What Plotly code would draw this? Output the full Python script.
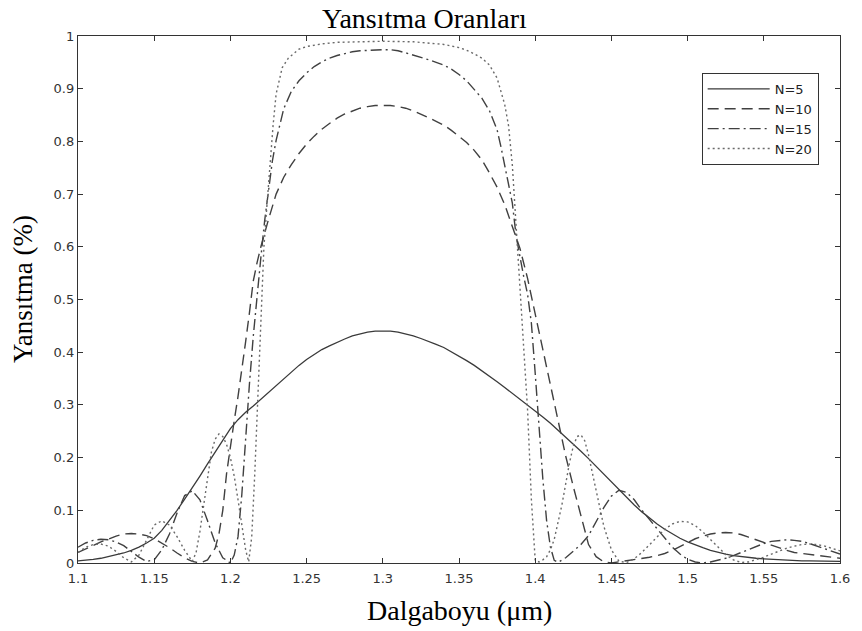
import plotly.graph_objects as go

# ---------------- data ----------------
wl_5 = [round(1.1 + 0.005 * i, 3) for i in range(101)]
r_5 = [0.004, 0.005, 0.007, 0.009, 0.012, 0.015, 0.019, 0.024, 0.030, 0.038,
       0.047, 0.062, 0.080, 0.100, 0.121, 0.142, 0.165, 0.188, 0.211, 0.234,
       0.255, 0.272, 0.286, 0.298, 0.311, 0.324, 0.337, 0.350, 0.363, 0.375,
       0.386, 0.396, 0.405, 0.412, 0.419, 0.425, 0.431, 0.435, 0.438, 0.440,
       0.440, 0.440, 0.438, 0.435, 0.431, 0.426, 0.421, 0.415, 0.409, 0.401,
       0.393, 0.384, 0.375, 0.365, 0.355, 0.344, 0.333, 0.322, 0.311, 0.300,
       0.289, 0.277, 0.265, 0.252, 0.239, 0.226, 0.212, 0.198, 0.183, 0.168,
       0.153, 0.138, 0.124, 0.110, 0.097, 0.085, 0.074, 0.064, 0.055, 0.047,
       0.040, 0.034, 0.029, 0.024, 0.020, 0.017, 0.014, 0.012, 0.010, 0.009,
       0.008, 0.007, 0.006, 0.005, 0.005, 0.004, 0.004, 0.004, 0.003, 0.003,
       0.003]

wl_10 = [1.100, 1.105, 1.110, 1.115, 1.120, 1.125, 1.130, 1.135, 1.140, 1.145,
         1.150, 1.155, 1.160, 1.165, 1.170, 1.175, 1.180, 1.185, 1.190, 1.1925,
         1.195, 1.1975, 1.200, 1.2025, 1.205, 1.2075, 1.210, 1.2125, 1.215, 1.2175,
         1.220, 1.225, 1.230, 1.235, 1.240, 1.245, 1.250, 1.255, 1.260, 1.265,
         1.270, 1.275, 1.280, 1.285, 1.290, 1.295, 1.300, 1.305, 1.310, 1.315,
         1.320, 1.325, 1.330, 1.335, 1.340, 1.345, 1.350, 1.355, 1.360, 1.365,
         1.370, 1.375, 1.380, 1.385, 1.390, 1.395, 1.400, 1.405, 1.410, 1.415,
         1.420, 1.425, 1.430, 1.435, 1.440, 1.445, 1.450, 1.455, 1.460, 1.465,
         1.470, 1.475, 1.480, 1.485, 1.490, 1.495, 1.500, 1.505, 1.510, 1.515,
         1.520, 1.525, 1.530, 1.535, 1.540, 1.545, 1.550, 1.555, 1.560, 1.565,
         1.570, 1.575, 1.580, 1.585, 1.590, 1.595, 1.600]
r_10 = [0.020, 0.026, 0.033, 0.040, 0.046, 0.051, 0.055, 0.056, 0.055, 0.052,
        0.046, 0.038, 0.029, 0.019, 0.010, 0.003, 0.000, 0.006, 0.028, 0.055,
        0.100, 0.170, 0.225, 0.270, 0.316, 0.365, 0.420, 0.475, 0.535, 0.570,
        0.600, 0.652, 0.700, 0.732, 0.756, 0.777, 0.795, 0.810, 0.823, 0.834,
        0.844, 0.852, 0.858, 0.863, 0.866, 0.868, 0.868, 0.868, 0.866, 0.863,
        0.858, 0.852, 0.845, 0.838, 0.831, 0.821, 0.810, 0.798, 0.783, 0.765,
        0.740, 0.713, 0.680, 0.640, 0.597, 0.540, 0.472, 0.403, 0.334, 0.266,
        0.203, 0.145, 0.088, 0.035, 0.012, 0.002, 0.000, 0.002, 0.004, 0.006,
        0.008, 0.011, 0.014, 0.018, 0.024, 0.031, 0.039, 0.046, 0.051, 0.055,
        0.057, 0.058, 0.057, 0.054, 0.049, 0.044, 0.038, 0.033, 0.028, 0.024,
        0.020, 0.018, 0.016, 0.015, 0.013, 0.011, 0.009]

wl_15 = [1.100, 1.105, 1.110, 1.115, 1.120, 1.125, 1.130, 1.135, 1.140, 1.145,
         1.150, 1.155, 1.160, 1.165, 1.170, 1.175, 1.180, 1.185, 1.190, 1.195,
         1.200, 1.2025, 1.205, 1.2075, 1.210, 1.2125, 1.215, 1.2175, 1.220, 1.2225,
         1.225, 1.2275, 1.230, 1.235, 1.240, 1.245, 1.250, 1.255, 1.260, 1.265,
         1.270, 1.275, 1.280, 1.285, 1.290, 1.295, 1.300, 1.305, 1.310, 1.315,
         1.320, 1.325, 1.330, 1.335, 1.340, 1.345, 1.350, 1.355, 1.360, 1.365,
         1.370, 1.375, 1.3775, 1.380, 1.3825, 1.385, 1.3875, 1.390, 1.3925, 1.395,
         1.3975, 1.400, 1.4025, 1.405, 1.4075, 1.410, 1.4125, 1.415, 1.420, 1.425,
         1.430, 1.435, 1.440, 1.445, 1.450, 1.455, 1.460, 1.465, 1.470, 1.475,
         1.480, 1.485, 1.490, 1.495, 1.500, 1.505, 1.510, 1.515, 1.520, 1.525,
         1.530, 1.535, 1.540, 1.545, 1.550, 1.555, 1.560, 1.565, 1.570, 1.575,
         1.580, 1.585, 1.590, 1.595, 1.600]
r_15 = [0.030, 0.038, 0.043, 0.045, 0.044, 0.040, 0.033, 0.022, 0.011, 0.003,
        0.006, 0.025, 0.055, 0.095, 0.128, 0.137, 0.120, 0.080, 0.038, 0.010,
        0.000, 0.015, 0.050, 0.130, 0.240, 0.340, 0.430, 0.510, 0.580, 0.650,
        0.705, 0.762, 0.802, 0.862, 0.895, 0.915, 0.930, 0.942, 0.951, 0.958,
        0.963, 0.967, 0.970, 0.972, 0.973, 0.974, 0.974, 0.974, 0.972, 0.968,
        0.964, 0.960, 0.955, 0.950, 0.945, 0.937, 0.927, 0.915, 0.898, 0.882,
        0.858, 0.822, 0.790, 0.755, 0.720, 0.683, 0.620, 0.578, 0.543, 0.510,
        0.455, 0.360, 0.255, 0.160, 0.080, 0.030, 0.005, 0.001, 0.010, 0.022,
        0.035, 0.052, 0.078, 0.105, 0.127, 0.138, 0.134, 0.120, 0.100, 0.082,
        0.064, 0.047, 0.030, 0.017, 0.007, 0.002, 0.000, 0.002, 0.005, 0.009,
        0.014, 0.020, 0.026, 0.032, 0.037, 0.041, 0.043, 0.044, 0.043, 0.041,
        0.037, 0.032, 0.027, 0.022, 0.017]

wl_20 = [1.100, 1.105, 1.110, 1.115, 1.120, 1.125, 1.130, 1.135, 1.140, 1.145,
         1.150, 1.155, 1.160, 1.165, 1.170, 1.175, 1.1775, 1.180, 1.1825, 1.185,
         1.1875, 1.190, 1.1925, 1.195, 1.1975, 1.200, 1.2025, 1.205, 1.2075, 1.210,
         1.212, 1.214, 1.216, 1.218, 1.220, 1.222, 1.224, 1.226, 1.228, 1.230,
         1.234, 1.238, 1.245, 1.250, 1.260, 1.270, 1.280, 1.300, 1.320, 1.330,
         1.340, 1.350, 1.355, 1.360, 1.365, 1.370, 1.375, 1.380, 1.3825, 1.385,
         1.3875, 1.390, 1.3925, 1.395, 1.3975, 1.400, 1.4025, 1.405, 1.4075, 1.410,
         1.4125, 1.415, 1.4175, 1.420, 1.4225, 1.425, 1.4275, 1.430, 1.4325, 1.435,
         1.4375, 1.440, 1.445, 1.450, 1.455, 1.460, 1.465, 1.470, 1.475, 1.480,
         1.485, 1.490, 1.495, 1.500, 1.505, 1.510, 1.515, 1.520, 1.525, 1.530,
         1.535, 1.540, 1.545, 1.550, 1.555, 1.560, 1.565, 1.570, 1.575, 1.580,
         1.585, 1.590, 1.595, 1.600]
r_20 = [0.020, 0.030, 0.035, 0.036, 0.032, 0.022, 0.010, 0.002, 0.015, 0.045,
        0.072, 0.080, 0.072, 0.050, 0.024, 0.003, 0.020, 0.060, 0.110, 0.160,
        0.210, 0.235, 0.245, 0.240, 0.225, 0.200, 0.165, 0.120, 0.070, 0.025,
        0.002, 0.050, 0.170, 0.320, 0.470, 0.600, 0.680, 0.760, 0.830, 0.890,
        0.940, 0.958, 0.975, 0.980, 0.985, 0.988, 0.989, 0.990, 0.989, 0.987,
        0.984, 0.978, 0.973, 0.966, 0.958, 0.945, 0.920, 0.870, 0.830, 0.755,
        0.640, 0.540, 0.420, 0.290, 0.120, 0.005, 0.002, 0.006, 0.012, 0.025,
        0.045, 0.075, 0.110, 0.150, 0.190, 0.222, 0.240, 0.243, 0.232, 0.205,
        0.170, 0.135, 0.070, 0.025, 0.003, 0.001, 0.008, 0.020, 0.035, 0.050,
        0.064, 0.074, 0.079, 0.078, 0.071, 0.059, 0.044, 0.029, 0.016, 0.006,
        0.001, 0.002, 0.006, 0.011, 0.017, 0.023, 0.028, 0.032, 0.035, 0.036,
        0.035, 0.032, 0.028, 0.023]

series_names = ["N=5", "N=10", "N=15", "N=20"]
x_ticks = [1.1, 1.15, 1.2, 1.25, 1.3, 1.35, 1.4, 1.45, 1.5, 1.55, 1.6]
x_ticktext = ["1.1", "1.15", "1.2", "1.25", "1.3", "1.35", "1.4", "1.45", "1.5", "1.55", "1.6"]
y_ticks = [0, 0.1, 0.2, 0.3, 0.4, 0.5, 0.6, 0.7, 0.8, 0.9, 1]
y_ticktext = ["0", "0.1", "0.2", "0.3", "0.4", "0.5", "0.6", "0.7", "0.8", "0.9", "1"]

# ---------------- figure ----------------
styles = [
    dict(color="#3a3a3a", width=1.3, dash="solid"),
    dict(color="#404040", width=1.4, dash="11px,6px"),
    dict(color="#404040", width=1.4, dash="11px,4px,2px,4px"),
    dict(color="#6a6a6a", width=1.4, dash="2px,3px"),
]
data = [(wl_5, r_5), (wl_10, r_10), (wl_15, r_15), (wl_20, r_20)]

fig = go.Figure()
for (xs, ys), name, st in zip(data, series_names, styles):
    fig.add_trace(go.Scatter(x=xs, y=ys, mode="lines", name=name, line=st))

sans = "DejaVu Sans, Verdana, sans-serif"
tick_font = dict(family=sans, size=13, color="#333333")
serif = "Liberation Serif, Times New Roman, serif"

fig.update_layout(
    width=862, height=631,
    margin=dict(l=78, r=17, t=36, b=68),
    paper_bgcolor="white", plot_bgcolor="white",
    showlegend=True,
    legend=dict(
        x=0.972, y=0.93, xanchor="right", yanchor="top",
        bgcolor="white", bordercolor="#333333", borderwidth=1,
        font=dict(family=sans, size=13, color="#222222"),
        itemwidth=62, tracegroupgap=0,
    ),
    xaxis=dict(
        range=[1.1, 1.6], tickmode="array", tickvals=x_ticks, ticktext=x_ticktext,
        ticks="inside", ticklen=5, tickcolor="#333333", tickwidth=1,
        showline=True, linecolor="#333333", linewidth=1.3, mirror="ticks",
        showgrid=False, zeroline=False, tickfont=tick_font, ticklabelstandoff=3,
    ),
    yaxis=dict(
        range=[0, 1], tickmode="array", tickvals=y_ticks, ticktext=y_ticktext,
        ticks="inside", ticklen=5, tickcolor="#333333", tickwidth=1,
        showline=True, linecolor="#333333", linewidth=1.3, mirror="ticks",
        showgrid=False, zeroline=False, tickfont=tick_font,
    ),
    annotations=[
        dict(text="Yansıtma Oranları", xref="paper", yref="paper", x=0.455, y=1,
             xanchor="center", yanchor="bottom", yshift=0, showarrow=False,
             font=dict(family=serif, size=28, color="black")),
        dict(text="Dalgaboyu (μm)", xref="paper", yref="paper", x=0.5, y=0,
             xanchor="center", yanchor="top", yshift=-30, showarrow=False,
             font=dict(family=serif, size=28, color="black")),
        dict(text="Yansıtma (%)", xref="paper", yref="paper", x=0, y=0.52,
             xanchor="right", yanchor="middle", xshift=-38, textangle=-90,
             showarrow=False, font=dict(family=serif, size=27, color="black")),
    ],
)

fig.write_html("out.html")
